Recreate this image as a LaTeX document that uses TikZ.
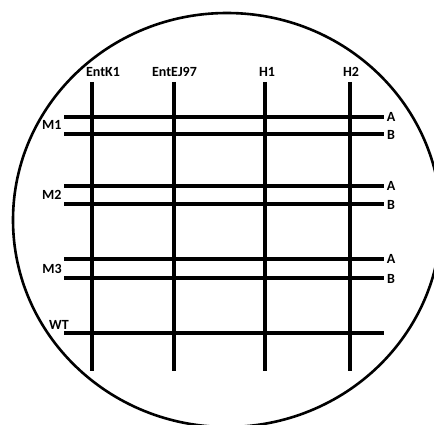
\documentclass[tikz,border=0pt]{standalone}
\usepackage{fontspec}
\setmainfont{Carlito}
\begin{document}
\begin{tikzpicture}[x=1pt,y=-1pt,
  lbl/.style={font=\bfseries\fontsize{14}{16}\selectfont, inner sep=0pt},
  vline/.style={line width=4.2pt},
  hline/.style={line width=3.2pt},
  rim/.style={line width=2.6pt}]
\useasboundingbox (0,0) rectangle (434,425);
% plate
\draw[rim] (227,220) ellipse [x radius=214, y radius=207];
% column coordinates
\foreach \n/\x in {k/92,e/174,a/265,b/350}{
  \coordinate (\n top) at (\x,82);
  \coordinate (\n bot) at (\x,371);
}
% row coordinates
\foreach \n/\y in {m1a/117,m1b/134,m2a/186,m2b/204,m3a/259,m3b/278,wt/333}{
  \coordinate (\n L) at (64,\y);
  \coordinate (\n R) at (384,\y);
}
% horizontal lines
\foreach \n in {m1a,m1b,m2a,m2b,m3a,m3b,wt}{
  \draw[hline] (\n L) -- (\n R);
}
% vertical lines
\foreach \n in {k,e,a,b}{
  \draw[vline] (\n top) -- (\n bot);
}
% column labels
\node[lbl] (lk) at (103,72) {EntK1};
\node[lbl] (le) at (174.5,72) {EntEJ97};
\node[lbl] (la) at (267,72) {H1};
\node[lbl] (lb) at (351,72) {H2};
% row labels
\node[lbl] (lm1) at (51.7,125) {M1};
\node[lbl] (lm2) at (51.7,195) {M2};
\node[lbl] (lm3) at (52,269) {M3};
\node[lbl] (lwt) at (59,325) {WT};
\node[lbl] (a1) at (391,117) {A};
\node[lbl] (b1) at (391,134.5) {B};
\node[lbl] (a2) at (391,186) {A};
\node[lbl] (b2) at (391,204.5) {B};
\node[lbl] (a3) at (391,259) {A};
\node[lbl] (b3) at (391,278.5) {B};
\end{tikzpicture}
\end{document}
